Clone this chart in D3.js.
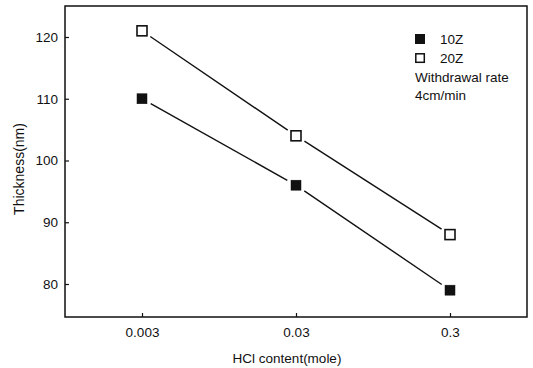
<!DOCTYPE html>
<html>
<head>
<meta charset="utf-8">
<script src="https://cdn.jsdelivr.net/npm/d3@7"></script>
<style>
  body { margin: 0; background: #fff; }
  text { font-family: "Liberation Sans", Arial, sans-serif; fill: #111; }
</style>
</head>
<body>
<div id="container"></div>
<script>
// data
const hcl = [0.003, 0.03, 0.3];
const xTickLabels = ["0.003", "0.03", "0.3"];
const thick10Z = [110, 96, 79];
const thick20Z = [121, 104, 88];
const yTicks = [80, 90, 100, 110, 120];
const legendNotes = ["Withdrawal rate", "4cm/min"];

const width = 533, height = 368;
const frame = { left: 65, right: 527, top: 6, bottom: 317 };

const svg = d3.select("#container").append("svg")
  .attr("width", width)
  .attr("height", height);

// log x, padded by half a decade on each side
const x = d3.scaleLog()
  .domain([0.003 / Math.sqrt(10), 0.3 * Math.sqrt(10)])
  .range([frame.left, frame.right]);

const y = d3.scaleLinear()
  .domain([80, 120])
  .range([284, 37]);

// frame
svg.append("rect")
  .attr("x", frame.left)
  .attr("y", frame.top)
  .attr("width", frame.right - frame.left)
  .attr("height", frame.bottom - frame.top)
  .attr("fill", "none")
  .attr("stroke", "#111")
  .attr("stroke-width", 1.5);

// axes with inward ticks
const xAxis = svg.append("g")
  .attr("transform", `translate(0,${frame.bottom})`)
  .call(d3.axisBottom(x).tickValues(hcl).tickSize(-4).tickPadding(10)
    .tickFormat((d, i) => xTickLabels[i]));

const yAxis = svg.append("g")
  .attr("transform", `translate(${frame.left},0)`)
  .call(d3.axisLeft(y).tickValues(yTicks).tickSize(-4).tickPadding(7));

[xAxis, yAxis].forEach(g => {
  g.select(".domain").remove();
  g.selectAll(".tick line").attr("stroke", "#111").attr("stroke-width", 1.2);
  g.selectAll(".tick text").attr("font-size", 13.5).style("fill", "#111");
});

// axis titles
svg.append("text")
  .attr("x", 287)
  .attr("y", 363)
  .attr("text-anchor", "middle")
  .attr("font-size", 13.5)
  .text("HCl content(mole)");

svg.append("text")
  .attr("transform", "translate(24,169) rotate(-90)")
  .attr("text-anchor", "middle")
  .attr("font-size", 14)
  .text("Thickness(nm)");

// series: lines stop short of the markers
function drawSeries(vals, filled) {
  const pts = hcl.map((h, i) => [x(h), y(vals[i])]);
  const gap = 10;
  for (let i = 0; i < pts.length - 1; i++) {
    const [x1, y1] = pts[i], [x2, y2] = pts[i + 1];
    const len = Math.hypot(x2 - x1, y2 - y1);
    const ux = (x2 - x1) / len, uy = (y2 - y1) / len;
    svg.append("line")
      .attr("x1", x1 + ux * gap).attr("y1", y1 + uy * gap)
      .attr("x2", x2 - ux * gap).attr("y2", y2 - uy * gap)
      .attr("stroke", "#111")
      .attr("stroke-width", 1.4);
  }
  svg.selectAll(null)
    .data(pts)
    .enter().append("rect")
    .attr("x", d => d[0] - 5)
    .attr("y", d => d[1] - 5)
    .attr("width", 10)
    .attr("height", 10)
    .attr("fill", filled ? "#111" : "#fff")
    .attr("stroke", "#111")
    .attr("stroke-width", filled ? 0.5 : 1.6);
}

drawSeries(thick10Z, true);
drawSeries(thick20Z, false);

// legend
const lg = svg.append("g").attr("transform", "translate(415,34)");
lg.append("rect").attr("x", 0).attr("y", 0).attr("width", 10).attr("height", 10)
  .attr("fill", "#111");
lg.append("text").attr("x", 25).attr("y", 10).attr("font-size", 13.5).text("10Z");
lg.append("rect").attr("x", 0.8).attr("y", 19.8).attr("width", 8.5).attr("height", 8.5)
  .attr("fill", "#fff").attr("stroke", "#111").attr("stroke-width", 1.5);
lg.append("text").attr("x", 25).attr("y", 29).attr("font-size", 13.5).text("20Z");
legendNotes.forEach((t, i) => {
  lg.append("text").attr("x", 0).attr("y", 48 + i * 18).attr("font-size", 13.5).text(t);
});
</script>
</body>
</html>
